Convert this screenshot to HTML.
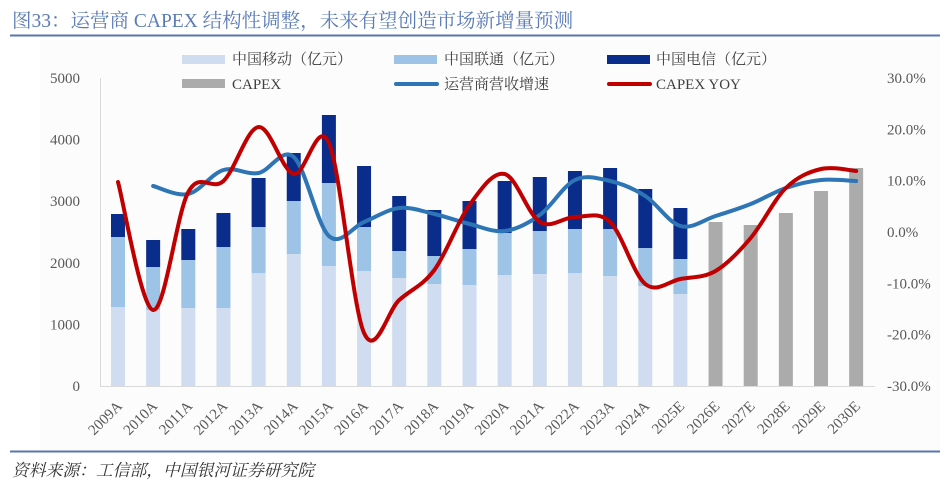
<!DOCTYPE html>
<html><head><meta charset="utf-8"><style>
html,body{margin:0;padding:0;background:#fff;}
svg{display:block;}
text{font-family:"Liberation Serif","Noto Serif CJK SC",serif;}
</style></head><body>
<svg id="s" width="949" height="482" xmlns="http://www.w3.org/2000/svg">
<rect x="40" y="40" width="900" height="411" fill="#fcfcfc"/>
<text x="12" y="27" font-size="19.5" fill="#5b7bb8">图33：运营商 CAPEX 结构性调整，未来有望创造市场新增量预测</text>
<line x1="10" y1="35.5" x2="940" y2="35.5" stroke="#5876b0" stroke-width="2"/>
<line x1="10" y1="451.5" x2="940" y2="451.5" stroke="#5876b0" stroke-width="2"/>
<text x="12" y="476" font-size="16.8" fill="#333" font-style="italic">资料来源：工信部，中国银河证券研究院</text>
<g font-size="15" fill="#404040">
<rect x="182" y="55" width="43" height="9" fill="#d0ddf0"/><text x="232" y="64">中国移动（亿元）</text>
<rect x="394" y="55" width="43" height="9" fill="#9dc3e6"/><text x="444" y="64">中国联通（亿元）</text>
<rect x="607" y="55" width="43" height="9" fill="#0a2d8b"/><text x="656" y="64">中国电信（亿元）</text>
<rect x="182" y="79" width="43" height="9" fill="#ababab"/><text x="232" y="89">CAPEX</text>
<line x1="396" y1="84" x2="437" y2="84" stroke="#2e75b6" stroke-width="4" stroke-linecap="round"/><text x="444" y="89">运营商营收增速</text>
<line x1="609" y1="84" x2="650" y2="84" stroke="#c00000" stroke-width="4" stroke-linecap="round"/><text x="656" y="89">CAPEX YOY</text>
</g>
<line x1="100.5" y1="78" x2="100.5" y2="387" stroke="#d9d9d9"/>
<line x1="100" y1="386.5" x2="875" y2="386.5" stroke="#d9d9d9"/>
<g id="g"></g>
</svg>
<script>
var g=document.getElementById('g'),h='';
function cx(i){return 118+35.15*i;}
var yrs=['2009A','2010A','2011A','2012A','2013A','2014A','2015A','2016A','2017A','2018A','2019A','2020A','2021A','2022A','2023A','2024A','2025E','2026E','2027E','2028E','2029E','2030E'];
var st=[[307,237,214],[310,267,240],[308,260,229],[308,247,213],[273,227,178],[254,201,153],[266,183,115],[271,227,166],[278,251,196],[284,256,210],[285,249,201],[275,233,181],[274,231,177],[273,229,171],[276,229,168],[286,248,189],[294,259,208]];
var gr=[222,225,213,191,168];
var B=386;
for(var i=0;i<17;i++){var s=st[i],x=cx(i)-7;
h+='<rect x="'+x+'" y="'+s[0]+'" width="14" height="'+(B-s[0])+'" fill="#d0ddf0"/>';
h+='<rect x="'+x+'" y="'+s[1]+'" width="14" height="'+(s[0]-s[1])+'" fill="#9dc3e6"/>';
h+='<rect x="'+x+'" y="'+s[2]+'" width="14" height="'+(s[1]-s[2])+'" fill="#0a2d8b"/>';}
for(var j=0;j<5;j++){var x=cx(17+j)-7;h+='<rect x="'+x+'" y="'+gr[j]+'" width="14" height="'+(B-gr[j])+'" fill="#ababab"/>';}
function path(p){var d='M'+p[0][0]+','+p[0][1];for(var i=0;i<p.length-1;i++){var p0=p[i-1]||p[i],p1=p[i],p2=p[i+1],p3=p[i+2]||p2;
d+=' C'+(p1[0]+(p2[0]-p0[0])/6)+','+(p1[1]+(p2[1]-p0[1])/6)+' '+(p2[0]-(p3[0]-p1[0])/6)+','+(p2[1]-(p3[1]-p1[1])/6)+' '+p2[0]+','+p2[1];}return d;}
var blue=[186,194,170,173,157,236,222,208,214,224,231,215,180,181,196,226,216,204,188,180,181];
var red=[182,310,192,181,127,174,143,333,300,270,205,174,222,217,222,284,279,271,238,188,169,171];
var bp=blue.map(function(v,i){return [cx(i+1),v];}),rp=red.map(function(v,i){return [cx(i),v];});
h+='<path d="'+path(bp)+'" fill="none" stroke="#2e75b6" stroke-width="4" stroke-linecap="round"/>';
h+='<path d="'+path(rp)+'" fill="none" stroke="#c00000" stroke-width="4" stroke-linecap="round"/>';
for(var k=0;k<=5;k++){var y=386-k*61.6;h+='<text x="80" y="'+(y+5)+'" font-size="15" fill="#595959" text-anchor="end">'+(k*1000)+'</text>';}
var rl=['30.0%','20.0%','10.0%','0.0%','-10.0%','-20.0%','-30.0%'];
for(var k=0;k<7;k++){var y=78+k*51.33;h+='<text x="887" y="'+(y+5)+'" font-size="15" fill="#595959">'+rl[k]+'</text>';}
for(var i=0;i<22;i++){var x=cx(i)+5,y=407;h+='<text transform="translate('+x+','+y+') rotate(-45)" font-size="15" fill="#595959" text-anchor="end">'+yrs[i]+'</text>';}
g.innerHTML=h;
</script>
</body></html>
